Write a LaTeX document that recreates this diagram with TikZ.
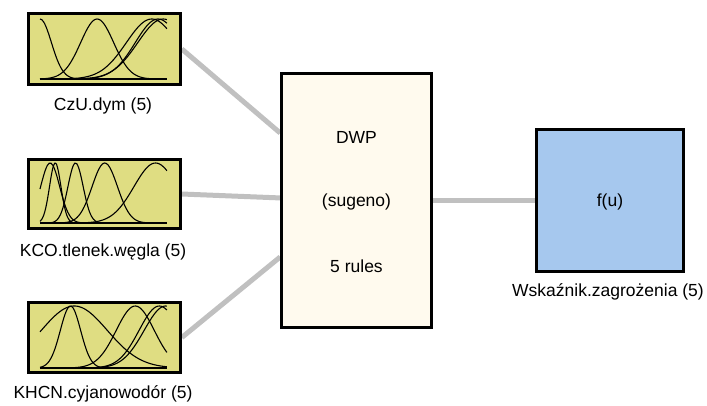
\documentclass[tikz,border=0pt]{standalone}
\usepackage{fontspec}
\setmainfont{Liberation Sans}
\usetikzlibrary{calc,backgrounds}
\definecolor{mfyellow}{RGB}{223,221,130}
\definecolor{fiscream}{RGB}{255,250,238}
\definecolor{outblue}{RGB}{166,200,238}
\definecolor{wiregray}{RGB}{192,192,192}
\newcommand\mfg[4]{\draw[mfline] plot[domain=0:1,samples=70,smooth] ({40+127*\x},{#1-#2*exp(-((\x-#3)*(\x-#3))/(2*#4*#4))});}
\begin{document}
\begin{tikzpicture}[x=1pt,y=-1pt,
  every node/.style={font=\fontsize{17.5}{20}\selectfont},
  inbox/.style={draw=black,line width=2.6pt,fill=mfyellow,minimum width=152pt,inner sep=0pt},
  fisbox/.style={draw=black,line width=2.6pt,fill=fiscream,minimum width=150pt,minimum height=254pt,inner sep=0pt},
  outbox/.style={draw=black,line width=2.6pt,fill=outblue,minimum width=147pt,minimum height=142pt,inner sep=0pt},
  wire/.style={draw=wiregray,line width=5pt},
  mfline/.style={draw=black,line width=1.1pt},
  lbl/.style={inner sep=0pt}]
\useasboundingbox (0,0) rectangle (707,405);
% boxes
\node[inbox,minimum height=71pt] (in1) at (104.5,49) {};
\node[inbox,minimum height=69pt] (in2) at (104.5,194) {};
\node[inbox,minimum height=70pt] (in3) at (104.5,337.5) {};
\node[fisbox] (fis) at (356.5,200.5) {};
\node[outbox] (out) at (610,200.5) {};
% labels
\node[lbl] (l1) at (103,106) {CzU.dym (5)};
\node[lbl] (l2) at (103,252) {KCO.tlenek.węgla (5)};
\node[lbl] (l3) at (103,394) {KHCN.cyjanowodór (5)};
\node[lbl] (l4) at (608,292) {Wskaźnik.zagrożenia (5)};
\node[lbl] (t1) at (356.5,137) {DWP};
\node[lbl] (t2) at (356.5,202) {(sugeno)};
\node[lbl] (t3) at (356.5,266) {5 rules};
\node[lbl] (t4) at (610,202) {f(u)};
% connectors
\coordinate (fa) at ($(fis.north west)!0.237!(fis.south west)$);
\coordinate (fb) at ($(fis.north west)!0.49!(fis.south west)$);
\coordinate (fc) at ($(fis.north west)!0.72!(fis.south west)$);
\begin{scope}[on background layer]
\draw[wire] (in1.east) -- (fa);
\draw[wire] (in2.east) -- (fb);
\draw[wire] (in3.east) -- (fc);
\draw[wire] (fis.east) -- (out.west);
\end{scope}
% membership functions: input 1
\draw[mfline] (40,79) -- (167,79);
\mfg{79}{60}{0}{0.09}
\mfg{79}{60}{0.45}{0.13}
\mfg{79}{60}{0.88}{0.2}
\mfg{79}{60}{0.93}{0.18}
\mfg{79}{60}{0.97}{0.2}
% input 2
\draw[mfline] (40,223) -- (167,223);
\mfg{223}{60}{0.08}{0.075}
\mfg{223}{60}{0.12}{0.045}
\mfg{223}{60}{0.28}{0.06}
\mfg{223}{60}{0.51}{0.1}
\mfg{223}{60}{0.91}{0.17}
% input 3
\draw[mfline] (40,368) -- (167,368);
\mfg{368}{62}{0.24}{0.08}
\mfg{368}{62}{0.27}{0.26}
\mfg{368}{62}{0.75}{0.15}
\mfg{368}{62}{0.94}{0.16}
\mfg{368}{62}{0.99}{0.17}
\end{tikzpicture}
\end{document}
